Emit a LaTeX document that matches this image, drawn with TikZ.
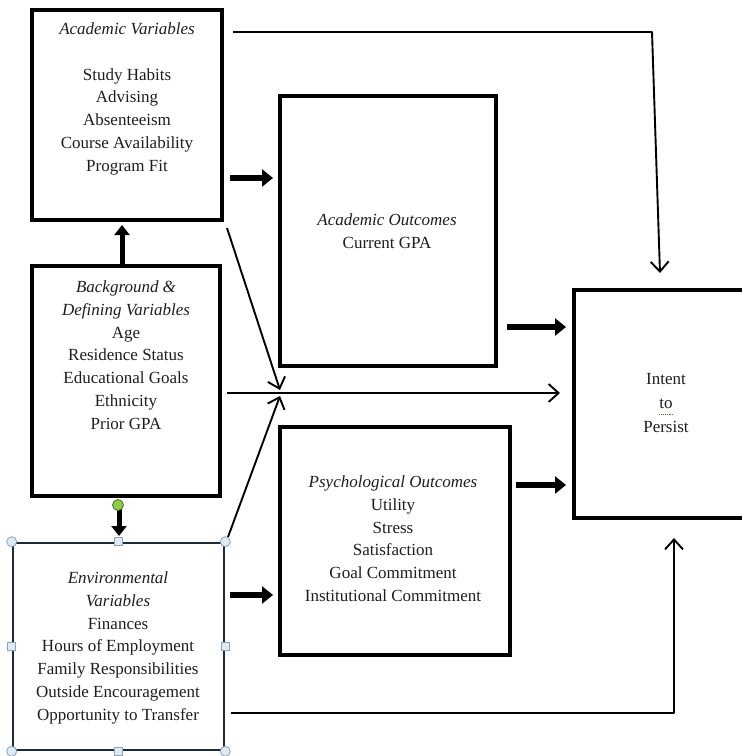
\documentclass[tikz,border=0pt]{standalone}
\usepackage{fontspec}
\setmainfont{Liberation Serif}
\usetikzlibrary{arrows.meta}
\definecolor{txt}{HTML}{1E1E1E}
\definecolor{envline}{HTML}{1E2B38}
\definecolor{hfill}{HTML}{DDE9F3}
\definecolor{hdraw}{HTML}{8FA3B6}
\definecolor{rotg}{HTML}{8CCB4A}
\begin{document}
\begin{tikzpicture}[x=1pt,y=-1pt,
  box/.style={draw=black, line width=3.5pt, inner sep=0pt},
  label/.style={text=txt, align=center, anchor=north, inner sep=0pt,
    font=\fontsize{17}{22.8}\selectfont},
  harrow/.style={line width=6pt, -{Triangle[length=11pt,width=17pt]}},
  varrow/.style={line width=5pt, -{Triangle[length=10pt,width=15pt]}},
  tarrow/.style={line width=1.9pt, line join=round, -{Straight Barb[length=10pt,width=18pt,line width=1.9pt]}},
  cornerh/.style={circle, draw=hdraw, fill=hfill, line width=0.8pt, inner sep=0pt, minimum size=10pt},
  sideh/.style={rectangle, draw=hdraw, fill=hfill, line width=0.8pt, inner sep=0pt, minimum size=8pt}
]
\useasboundingbox[fill=white] (0,0) rectangle (742,756);

% boxes
\node[box, minimum width=190pt, minimum height=210pt] (av) at (127,115) {};
\node[box, minimum width=188pt, minimum height=230pt] (bg) at (126,381) {};
\node[box, draw=envline, line width=2.6pt, minimum width=211pt, minimum height=207pt] (env) at (118.5,646.5) {};
\node[box, minimum width=216pt, minimum height=270pt] (ao) at (388,231) {};
\node[box, minimum width=230pt, minimum height=228pt] (po) at (395,541) {};
\node[box, minimum width=176pt, minimum height=228pt] (ip) at (662,404) {};

% texts
\node[label] (avt) at (127,22.5) {\textit{Academic Variables}\\[22.8pt]
  Study Habits\\ Advising\\ Absenteeism\\ Course Availability\\ Program Fit};
\node[label] (bgt) at (126,280.5) {\textit{Background \&}\\ \textit{Defining Variables}\\
  Age\\ Residence Status\\ Educational Goals\\ Ethnicity\\ Prior GPA};
\node[label] (envt) at (118,571.5) {\textit{Environmental}\\ \textit{Variables}\\ Finances\\
  Hours of Employment\\ Family Responsibilities\\ Outside Encouragement\\ Opportunity to Transfer};
\node[label] (aot) at (387,213.5) {\textit{Academic Outcomes}\\ Current GPA};
\node[label] (pot) at (393,475.5) {\textit{Psychological Outcomes}\\ Utility\\ Stress\\
  Satisfaction\\ Goal Commitment\\ Institutional Commitment};
\node[label, font=\fontsize{17}{24}\selectfont] (ipt) at (666,373.5) {Intent\\ to\\ Persist};
\draw[rotg!60!black, densely dotted, line width=0.9pt] (659,414) -- (673,414);

% free-end coordinates
\coordinate (a1) at (230,178);  \coordinate (a2) at (273,178);
\coordinate (b1) at (507,327);  \coordinate (b2) at (566,327);
\coordinate (c1) at (516,485);  \coordinate (c2) at (566,485);
\coordinate (d1) at (230,595);  \coordinate (d2) at (273,595);
\coordinate (u1) at (122,264);  \coordinate (u2) at (122,225);
\coordinate (w1) at (119,503);  \coordinate (w2) at (119,536);
\coordinate (t1) at (233,32);   \coordinate (t2) at (652,32);  \coordinate (t3) at (660,273);
\coordinate (s1) at (227,228);  \coordinate (s2) at (280,390);
\coordinate (e1) at (228,537);  \coordinate (e2) at (280,396);
\coordinate (h1) at (227,393);  \coordinate (h2) at (560,393);
\coordinate (g1) at (231,713);  \coordinate (g2) at (674,713);  \coordinate (g3) at (674,538);

% thick arrows
\draw[harrow] (a1) -- (a2);
\draw[harrow] (b1) -- (b2);
\draw[harrow] (c1) -- (c2);
\draw[harrow] (d1) -- (d2);
\draw[varrow] (u1) -- (u2);
\draw[varrow] (w1) -- (w2);

% thin arrows
\draw[tarrow] (t1) -- (t2) -- (t3);
\draw[tarrow] (s1) -- (s2);
\draw[tarrow] (e1) -- (e2);
\draw[tarrow] (h1) -- (h2);
\draw[tarrow] (g1) -- (g2) -- (g3);

% selection handles of the environmental box
\node[cornerh] (hnw) at (env.north west) {};
\node[cornerh] (hne) at (env.north east) {};
\node[cornerh] (hsw) at (env.south west) {};
\node[cornerh] (hse) at (env.south east) {};
\node[sideh] (hn) at (env.north) {};
\node[sideh] (hs) at (env.south) {};
\node[sideh] (hw) at (env.west) {};
\node[sideh] (he) at (env.east) {};
\node[circle, draw=rotg!55!black, fill=rotg, line width=0.8pt, inner sep=0pt, minimum size=11pt] (rot) at (118,505) {};
\end{tikzpicture}
\end{document}
